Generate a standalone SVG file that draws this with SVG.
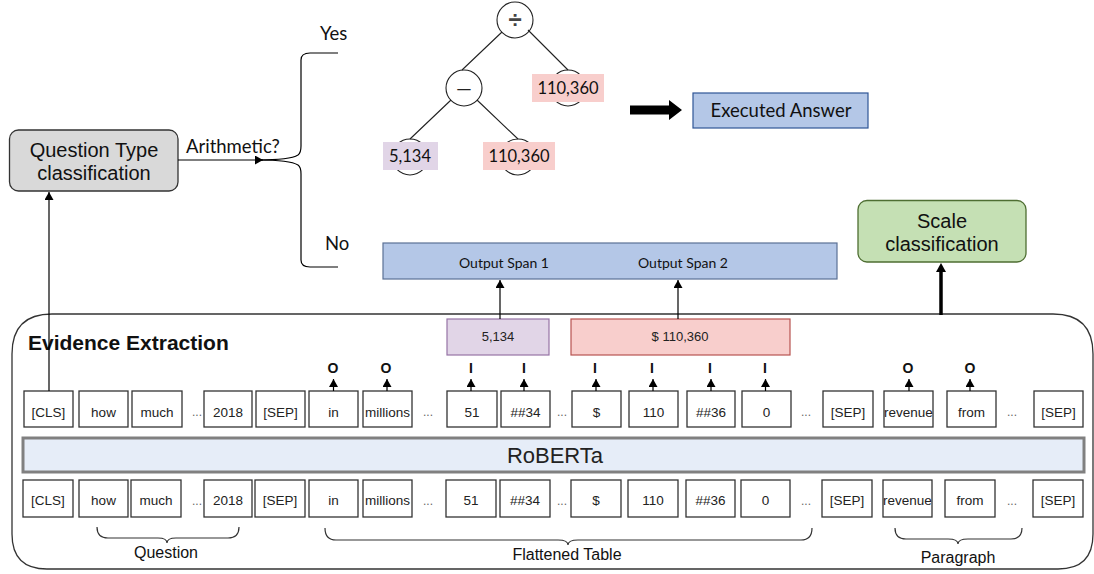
<svg xmlns="http://www.w3.org/2000/svg" width="1094" height="574" viewBox="0 0 1094 574">
  <defs>
    <marker id="tip" markerUnits="userSpaceOnUse" markerWidth="10" markerHeight="10" refX="8" refY="4.5" orient="auto">
      <path d="M0,0 L8,4.5 L0,9 Z" fill="#000"/>
    </marker>
    <style>
      .sans { font-family: "Liberation Sans", Arial, sans-serif; }
      .cal { font-family: Lato, "Open Sans", sans-serif; }
      .tok rect { fill: #fff; stroke: #333; stroke-width: 1.3; }
      .tok text { font-family: "Liberation Sans", Arial, sans-serif; font-size: 13.5px; fill: #222; text-anchor: middle; }
      .dots { font-family: "Liberation Sans", Arial, sans-serif; font-size: 12px; fill: #666; text-anchor: middle; }
      .lbl { font-family: "Liberation Sans", Arial, sans-serif; font-size: 14px; font-weight: bold; fill: #111; text-anchor: middle; }
      .line { fill: none; stroke: #000; stroke-width: 1.2; }
      .tree { fill: none; stroke: #222; stroke-width: 1.1; }
      .brace { fill: none; stroke: #333; stroke-width: 1.2; }
    </style>
  </defs>

  <!-- Evidence extraction frame -->
  <g id="evidence">
    <path d="M12,354 Q12,314 52,314 H1053 Q1093,314 1093,354 V534 Q1093,569 1058,569 H47 Q12,569 12,534 Z" fill="#fff" stroke="#333" stroke-width="1.3"/>
    <text x="28" y="350" class="sans" font-size="21" font-weight="bold" fill="#111">Evidence Extraction</text>
  </g>

  <!-- RoBERTa encoder bar -->
  <g id="roberta">
    <rect x="23" y="438" width="1061" height="34" fill="#e6edf8" stroke="#808080" stroke-width="3"/>
    <text x="555" y="463" class="sans" font-size="22" fill="#222" text-anchor="middle">RoBERTa</text>
  </g>

  <!-- Output tokens -->
  <g id="tokens-out" class="tok">
    <rect x="24" y="391" width="49" height="36"/><text x="48.5" y="416.5">[CLS]</text>
    <rect x="79" y="391" width="49" height="36"/><text x="103.5" y="416.5">how</text>
    <rect x="132" y="391" width="50" height="36"/><text x="157" y="416.5">much</text>
    <rect x="204" y="391" width="48" height="36"/><text x="228" y="416.5">2018</text>
    <rect x="256" y="391" width="49" height="36"/><text x="280.5" y="416.5">[SEP]</text>
    <rect x="309" y="391" width="49" height="36"/><text x="333.5" y="416.5">in</text>
    <rect x="363" y="391" width="49" height="36"/><text x="387.5" y="416.5">millions</text>
    <rect x="447" y="391" width="50" height="36"/><text x="472" y="416.5">51</text>
    <rect x="501" y="391" width="49" height="36"/><text x="525.5" y="416.5">##34</text>
    <rect x="572" y="391" width="49" height="36"/><text x="596.5" y="416.5">$</text>
    <rect x="629" y="391" width="49" height="36"/><text x="653.5" y="416.5">110</text>
    <rect x="687" y="391" width="48" height="36"/><text x="711" y="416.5">##36</text>
    <rect x="742" y="391" width="49" height="36"/><text x="766.5" y="416.5">0</text>
    <rect x="823" y="391" width="50" height="36"/><text x="848" y="416.5">[SEP]</text>
    <rect x="884" y="391" width="49" height="36"/><text x="908.5" y="416.5">revenue</text>
    <rect x="947" y="391" width="49" height="36"/><text x="971.5" y="416.5">from</text>
    <rect x="1034" y="391" width="49" height="36"/><text x="1058.5" y="416.5">[SEP]</text>
  </g>
  <g id="dots-out" class="dots">
    <text x="197" y="416">...</text>
    <text x="428" y="416">...</text>
    <text x="562" y="416">...</text>
    <text x="806" y="416">...</text>
    <text x="1012" y="416">...</text>
  </g>

  <!-- Input tokens -->
  <g id="tokens-in" class="tok">
    <rect x="23" y="480" width="50" height="37"/><text x="48" y="505">[CLS]</text>
    <rect x="79" y="480" width="49" height="37"/><text x="103.5" y="505">how</text>
    <rect x="131" y="480" width="50" height="37"/><text x="156" y="505">much</text>
    <rect x="204" y="480" width="48" height="37"/><text x="228" y="505">2018</text>
    <rect x="255" y="480" width="50" height="37"/><text x="280" y="505">[SEP]</text>
    <rect x="309" y="480" width="49" height="37"/><text x="333.5" y="505">in</text>
    <rect x="363" y="480" width="49" height="37"/><text x="387.5" y="505">millions</text>
    <rect x="446" y="480" width="50" height="37"/><text x="471" y="505">51</text>
    <rect x="500" y="480" width="50" height="37"/><text x="525" y="505">##34</text>
    <rect x="571" y="480" width="50" height="37"/><text x="596" y="505">$</text>
    <rect x="628" y="480" width="50" height="37"/><text x="653" y="505">110</text>
    <rect x="686" y="480" width="49" height="37"/><text x="710.5" y="505">##36</text>
    <rect x="741" y="480" width="49" height="37"/><text x="765.5" y="505">0</text>
    <rect x="822" y="480" width="50" height="37"/><text x="847" y="505">[SEP]</text>
    <rect x="883" y="480" width="49" height="37"/><text x="907.5" y="505">revenue</text>
    <rect x="945" y="480" width="50" height="37"/><text x="970" y="505">from</text>
    <rect x="1033" y="480" width="50" height="37"/><text x="1058" y="505">[SEP]</text>
  </g>
  <g id="dots-in" class="dots">
    <text x="197" y="505">...</text>
    <text x="428" y="505">...</text>
    <text x="562" y="505">...</text>
    <text x="806" y="505">...</text>
    <text x="1012" y="505">...</text>
  </g>

  <!-- Segment braces -->
  <g id="segments">
    <path class="brace" d="M97,527 Q97,538 108,538 H158 Q167,538 167,543 Q167,538 176,538 H228 Q239,538 239,527"/>
    <text x="166" y="558" class="sans" font-size="16" fill="#111" text-anchor="middle">Question</text>
    <path class="brace" d="M325,528 Q325,540 336,540 H558 Q568,540 568,545 Q568,540 578,540 H801 Q812,540 812,528"/>
    <text x="567" y="560" class="sans" font-size="16" fill="#111" text-anchor="middle">Flattened Table</text>
    <path class="brace" d="M895,528 Q895,539 906,539 H948 Q958,539 958,544 Q958,539 968,539 H1011 Q1022,539 1022,528"/>
    <text x="958" y="563" class="sans" font-size="16" fill="#111" text-anchor="middle">Paragraph</text>
  </g>

  <!-- Tag labels -->
  <g id="tags" class="lbl">
    <text x="333" y="373">O</text>
    <text x="386" y="373">O</text>
    <text x="471" y="373">I</text>
    <text x="524" y="373">I</text>
    <text x="595" y="373">I</text>
    <text x="652" y="373">I</text>
    <text x="710" y="373">I</text>
    <text x="765" y="373">I</text>
    <text x="908" y="373">O</text>
    <text x="970" y="373">O</text>
  </g>

  <!-- Extracted spans -->
  <g id="span-a">
    <rect x="447" y="319" width="102" height="36" fill="#e1d5e7" stroke="#9673a6" stroke-width="1.2"/>
    <text x="498" y="341" class="sans" font-size="13" fill="#222" text-anchor="middle">5,134</text>
  </g>
  <g id="span-b">
    <rect x="571" y="319" width="219" height="36" fill="#f8cecc" stroke="#b85450" stroke-width="1.2"/>
    <text x="680" y="341" class="sans" font-size="13" fill="#222" text-anchor="middle">$ 110,360</text>
  </g>

  <!-- Output spans -->
  <g id="output-spans">
    <rect x="383" y="243" width="454" height="36" fill="#b4c7e7" stroke="#5b7196" stroke-width="1.2"/>
    <text x="504" y="268" class="cal" font-size="14" fill="#111" text-anchor="middle">Output Span 1</text>
    <text x="683" y="268" class="cal" font-size="14" fill="#111" text-anchor="middle">Output Span 2</text>
  </g>

  <!-- Question type classifier -->
  <g id="question-type">
    <rect x="9.5" y="130" width="168.5" height="61" rx="9" fill="#d9d9d9" stroke="#333" stroke-width="1.3"/>
    <text x="94" y="157" class="sans" font-size="20" fill="#111" text-anchor="middle">Question Type</text>
    <text x="94" y="180" class="sans" font-size="20" fill="#111" text-anchor="middle">classification</text>
  </g>

  <!-- Scale classifier -->
  <g id="scale">
    <rect x="858" y="200.5" width="168" height="61.5" rx="9" fill="#c5e0b4" stroke="#4e6e32" stroke-width="1.3"/>
    <text x="942" y="228" class="sans" font-size="20" fill="#111" text-anchor="middle">Scale</text>
    <text x="942" y="251" class="sans" font-size="20" fill="#111" text-anchor="middle">classification</text>
  </g>

  <!-- Expression tree -->
  <g id="tree">
    <circle cx="515" cy="20" r="18" fill="#fff" stroke="#222" stroke-width="1.1"/>
    <text x="515" y="28" class="sans" font-size="24" font-weight="bold" fill="#444" text-anchor="middle">÷</text>
    <circle cx="464" cy="88" r="18" fill="#fff" stroke="#222" stroke-width="1.1"/>
    <text x="464" y="95" class="cal" font-size="20" fill="#222" text-anchor="middle">—</text>
    <circle cx="568" cy="88" r="18" fill="#fff" stroke="#222" stroke-width="1.1"/>
    <circle cx="410" cy="157" r="18" fill="#fff" stroke="#222" stroke-width="1.1"/>
    <circle cx="518" cy="157" r="18" fill="#fff" stroke="#222" stroke-width="1.1"/>
    <path class="tree" d="M502,32 L462,70 M528,30 L568,70 M451,100 L410,139 M477,100 L518,139"/>
  </g>
  <g id="leaf-top">
    <rect x="532" y="74" width="72" height="28" fill="#f8cecc"/>
    <text x="568" y="94" class="cal" font-size="16.5" fill="#111" text-anchor="middle">110,360</text>
  </g>
  <g id="leaf-left">
    <rect x="383" y="142" width="55" height="28" fill="#e1d5e7"/>
    <text x="410" y="162" class="cal" font-size="16.5" fill="#111" text-anchor="middle">5,134</text>
  </g>
  <g id="leaf-right">
    <rect x="483" y="142" width="72" height="28" fill="#f8cecc"/>
    <text x="519" y="162" class="cal" font-size="16.5" fill="#111" text-anchor="middle">110,360</text>
  </g>

  <!-- Executed answer -->
  <g id="answer">
    <rect x="693" y="93" width="175" height="35" fill="#b4c7e7" stroke="#2f5597" stroke-width="1.2"/>
    <text x="781" y="117" class="cal" font-size="18.5" fill="#111" text-anchor="middle">Executed Answer</text>
  </g>

  <!-- Branch labels -->
  <g id="branch-labels" class="cal" font-size="18.5" fill="#111">
    <text x="186" y="153">Arithmetic?</text>
    <text x="320" y="40">Yes</text>
    <text x="325" y="250">No</text>
  </g>

  <!-- Connectors -->
  <g id="connectors">
    <line class="line" x1="49" y1="391" x2="49" y2="192" marker-end="url(#tip)"/>
    <line class="line" x1="178" y1="160" x2="263" y2="160" marker-end="url(#tip)"/>
    <path class="line" d="M258,160 Q290,160 298,155 Q301,153 301,146 V60 Q301,53 310,53 H338"/>
    <path class="line" d="M258,160 Q290,160 298,165 Q301,167 301,174 V260 Q301,267 310,267 H338"/>
    <polygon points="630,105.5 669,105.5 669,100 682,110 669,120 669,114.5 630,114.5" fill="#000"/>
    <line class="line" x1="500" y1="319" x2="500" y2="280" marker-end="url(#tip)"/>
    <line class="line" x1="678" y1="319" x2="678" y2="280" marker-end="url(#tip)"/>
    <line x1="941" y1="315" x2="941" y2="270" stroke="#000" stroke-width="3.5"/>
    <polygon points="941,263 936,272 946,272" fill="#000"/>
    <line class="line" x1="333.5" y1="391" x2="333.5" y2="379" marker-end="url(#tip)"/>
    <line class="line" x1="387" y1="391" x2="387" y2="379" marker-end="url(#tip)"/>
    <line class="line" x1="471" y1="391" x2="471" y2="379" marker-end="url(#tip)"/>
    <line class="line" x1="524" y1="391" x2="524" y2="379" marker-end="url(#tip)"/>
    <line class="line" x1="596" y1="391" x2="596" y2="379" marker-end="url(#tip)"/>
    <line class="line" x1="653" y1="391" x2="653" y2="379" marker-end="url(#tip)"/>
    <line class="line" x1="711" y1="391" x2="711" y2="379" marker-end="url(#tip)"/>
    <line class="line" x1="765.5" y1="391" x2="765.5" y2="379" marker-end="url(#tip)"/>
    <line class="line" x1="909" y1="391" x2="909" y2="379" marker-end="url(#tip)"/>
    <line class="line" x1="970" y1="391" x2="970" y2="379" marker-end="url(#tip)"/>
  </g>
</svg>
